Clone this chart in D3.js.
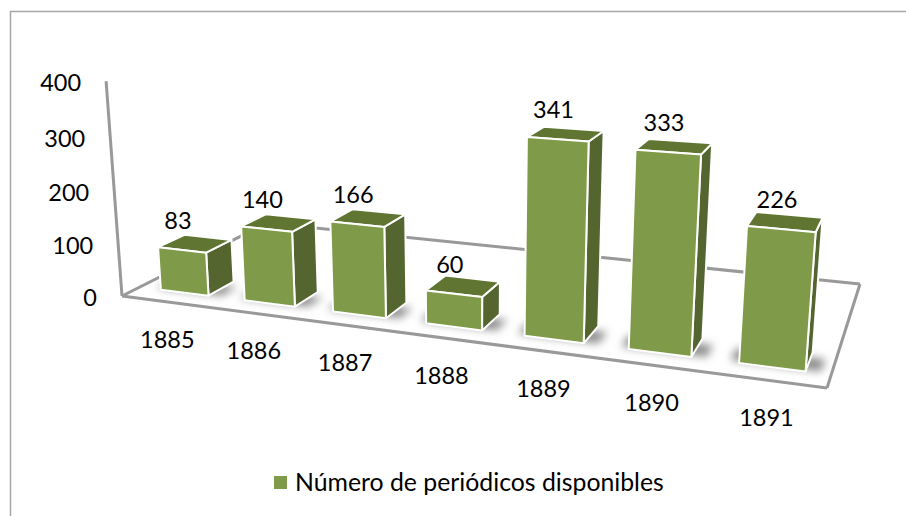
<!DOCTYPE html>
<html>
<head>
<meta charset="utf-8">
<script src="https://cdn.jsdelivr.net/npm/d3@7"></script>
<style>
  body { margin: 0; background: #fff; }
  text { font-family: Lato, sans-serif; fill: #000; }
</style>
</head>
<body>
<div id="chart"></div>
<script>
const years = ["1885", "1886", "1887", "1888", "1889", "1890", "1891"];
const values = [83, 140, 166, 60, 341, 333, 226];
const yTicks = [0, 100, 200, 300, 400];
const legendLabel = "Número de periódicos disponibles";

const width = 906, height = 516;

const svg = d3.select("#chart").append("svg")
    .attr("width", width)
    .attr("height", height);

const defs = svg.append("defs");
defs.append("filter").attr("id", "soft")
    .attr("x", "-50%").attr("y", "-80%").attr("width", "200%").attr("height", "260%")
    .append("feGaussianBlur").attr("stdDeviation", 4.5);

// floor corners on screen: front left, front right, back right, back left
const floor = [[122, 296], [827, 388], [860, 284], [267, 223]];
const vanish = [470, 5000]; // where the verticals meet

// square to quad homography
const dx1 = floor[1][0] - floor[2][0], dy1 = floor[1][1] - floor[2][1];
const dx2 = floor[3][0] - floor[2][0], dy2 = floor[3][1] - floor[2][1];
const sx = floor[0][0] - floor[1][0] + floor[2][0] - floor[3][0];
const sy = floor[0][1] - floor[1][1] + floor[2][1] - floor[3][1];
const den = dx1 * dy2 - dx2 * dy1;
const g = (sx * dy2 - dx2 * sy) / den;
const h = (dx1 * sy - sx * dy1) / den;
const a = floor[1][0] - floor[0][0] + g * floor[1][0];
const b = floor[3][0] - floor[0][0] + h * floor[3][0];
const d = floor[1][1] - floor[0][1] + g * floor[1][1];
const e = floor[3][1] - floor[0][1] + h * floor[3][1];

// SCALES
const x = d3.scaleBand().domain(years).range([0.003, 1.003]).paddingInner(0.425).paddingOuter(0.2375);
const y = d3.scaleLinear().domain([0, 400]).range([0, -0.0437]);
const depth = d3.scaleLinear().domain([0, 1]).range([0.105, 0.27]);

function project(u, v, val) {
    const t = y(val);
    const w = g * u + h * v + 1 + t;
    return [
        (a * u + b * v + floor[0][0] + t * vanish[0]) / w,
        (d * u + e * v + floor[0][1] + t * vanish[1]) / w
    ];
}

const polyLine = d3.line();

// BORDER
svg.append("path")
    .attr("d", "M10.5,516V11.5H906")
    .attr("fill", "none")
    .attr("stroke", "#a6a6a6")
    .attr("stroke-width", 1.5);

// WALL AND FLOOR LINES
const axisLines = [
    [[0, 0, 400], [0, 0, 0]],
    [[0, 0, 0], [1, 0, 0]],
    [[1, 0, 0], [1, 1, 0]],
    [[1, 1, 0], [0, 1, 0]],
    [[0, 1, 0], [0, 0, 0]]
];
svg.append("g").selectAll("path")
    .data(axisLines)
    .join("path")
    .attr("d", l => polyLine(l.map(p => project(p[0], p[1], p[2]))))
    .attr("fill", "none")
    .attr("stroke", "#999")
    .attr("stroke-width", 3);

// Y LABELS
svg.append("g").selectAll("text")
    .data(yTicks)
    .join("text")
    .attr("x", t => project(0, 0, t)[0] - 25)
    .attr("y", t => project(0, 0, t)[1] + 10)
    .attr("text-anchor", "end")
    .style("font-size", "23.5px")
    .text(t => t);

// SHADOWS
const bw = x.bandwidth();
svg.append("g").selectAll("path")
    .data(years)
    .join("path")
    .attr("d", yr => {
        const u0 = x(yr) - 0.012, u1 = x(yr) + bw + 0.018;
        const v0 = depth(0) + 0.015, v1 = depth(1) - 0.045;
        return polyLine([[u0, v0], [u1, v0], [u1, v1], [u0, v1]].map(p => project(p[0], p[1], 0))) + "Z";
    })
    .attr("fill", "#8c8c8c")
    .attr("filter", "url(#soft)");

// BARS
const faces = [
    { name: "side", fill: "#54652f", pts: (u0, u1, v0, v1, z) => [[u1, v0, 0], [u1, v1, 0], [u1, v1, z], [u1, v0, z]] },
    { name: "top", fill: "#5f7531", pts: (u0, u1, v0, v1, z) => [[u0, v0, z], [u1, v0, z], [u1, v1, z], [u0, v1, z]] },
    { name: "front", fill: "#7f9a48", pts: (u0, u1, v0, v1, z) => [[u0, v0, 0], [u1, v0, 0], [u1, v0, z], [u0, v0, z]] }
];

const bars = svg.append("g").selectAll("g")
    .data(years)
    .join("g");

faces.forEach(f => {
    bars.append("path")
        .attr("class", f.name)
        .attr("d", (yr, i) => {
            const pts = f.pts(x(yr), x(yr) + bw, depth(0), depth(1), values[i]);
            return polyLine(pts.map(p => project(p[0], p[1], p[2]))) + "Z";
        })
        .attr("fill", f.fill)
        .attr("stroke", "#fff")
        .attr("stroke-width", 2)
        .attr("stroke-linejoin", "round");
});

// VALUE LABELS
svg.append("g").selectAll("text")
    .data(years)
    .join("text")
    .attr("x", (yr, i) => project(x(yr) + bw / 2, depth(0), values[i])[0] - 4)
    .attr("y", (yr, i) => project(x(yr) + bw / 2, depth(0), values[i])[1] - 21)
    .attr("text-anchor", "middle")
    .style("font-size", "23.5px")
    .text((yr, i) => values[i]);

// CATEGORY LABELS
svg.append("g").selectAll("text")
    .data(years)
    .join("text")
    .attr("x", yr => project(x(yr) + bw / 2, 0, 0)[0])
    .attr("y", yr => project(x(yr) + bw / 2, 0, 0)[1] + 46)
    .attr("text-anchor", "middle")
    .style("font-size", "23.5px")
    .text(yr => yr);

// LEGEND
const legend = svg.append("g").attr("transform", "translate(274,476)");
legend.append("rect").attr("width", 13).attr("height", 13).attr("fill", "#7f9a48");
legend.append("text").attr("x", 21).attr("y", 15).style("font-size", "24.8px").text(legendLabel);
</script>
</body>
</html>
